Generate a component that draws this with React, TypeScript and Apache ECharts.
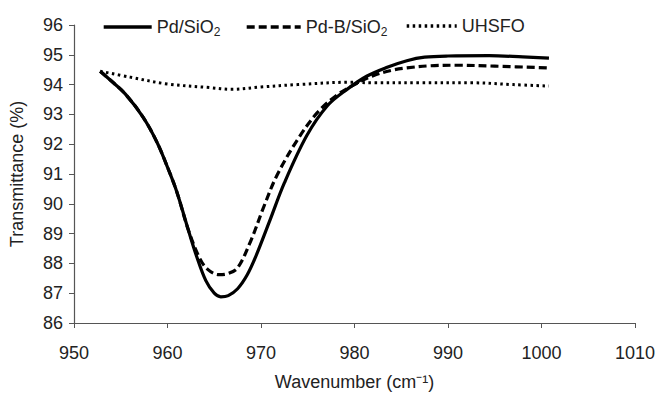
import React, { useEffect, useRef } from "react";
import * as echarts from "echarts";

const xTicks = [950, 960, 970, 980, 990, 1000, 1010];
const yTicks = [86, 87, 88, 89, 90, 91, 92, 93, 94, 95, 96];

const pdX = [952.8, 954, 955.5, 957.4, 958.9, 960.1, 961.0, 962.2, 963.1, 964.1, 965.0, 965.7, 966.5, 967.5, 968.5, 969.4, 970.9, 972.5, 974.9, 977.1, 979.2, 981.3, 983.5, 985.6, 987.5, 990, 994.4, 998, 1000.8];
const pdY = [94.45, 94.12, 93.68, 92.9, 92.05, 91.15, 90.4, 89.15, 88.25, 87.42, 87.0, 86.88, 86.92, 87.15, 87.6, 88.2, 89.4, 90.7, 92.29, 93.29, 93.84, 94.28, 94.58, 94.8, 94.92, 94.96, 94.97, 94.93, 94.89];

const pdbX = [952.8, 954, 955.5, 957.4, 958.9, 960.1, 961.0, 962.2, 963.4, 964.3, 965.5, 966.5, 967.5, 968.9, 970.3, 971.7, 973.9, 976, 978, 980, 982, 984, 985.6, 988, 990.9, 995, 1000.8];
const pdbY = [94.45, 94.12, 93.68, 92.9, 92.05, 91.15, 90.4, 89.15, 88.2, 87.8, 87.62, 87.66, 87.85, 88.75, 89.9, 90.95, 92.15, 93.05, 93.62, 94.0, 94.3, 94.48, 94.56, 94.63, 94.65, 94.62, 94.56];

const uhX = [952.8, 956, 960, 964.5, 966.8, 970, 973.9, 979.5, 982, 987, 992.6, 997, 1000.8];
const uhY = [94.45, 94.25, 94.02, 93.9, 93.84, 93.92, 94.0, 94.08, 94.06, 94.06, 94.06, 94.0, 93.95];

const seriesNames = ["Pd/SiO2", "Pd-B/SiO2", "UHSFO"];

const zip = (xs: number[], ys: number[]) => xs.map((x, i) => [x, ys[i]]);

export default function App() {
  const ref = useRef<HTMLDivElement>(null);
  useEffect(() => {
    if (!ref.current) return;
    const chart = echarts.init(ref.current, undefined, { renderer: "svg" });
    const font = "Liberation Sans, Arial, sans-serif";
    const fs = 18;
    const legendBase = (name: string, left: number, width: number, dash: any) => ({
      top: 17,
      left,
      padding: 0,
      itemWidth: width,
      itemHeight: 14,
      data: [name],
      itemStyle: { opacity: 0 },
      lineStyle: { width: 3.4, color: "#000", type: dash },
      formatter: (n: string) => {
        if (n.endsWith("SiO2")) return "{n|" + n.slice(0, -1) + "}{s|2}";
        return "{n|" + n + "}";
      },
      textStyle: {
        fontFamily: font,
        color: "#222",
        rich: {
          n: { fontSize: fs, fontFamily: font, color: "#222", lineHeight: 22 },
          s: { fontSize: 12, fontFamily: font, color: "#222", lineHeight: 22, verticalAlign: "bottom", padding: [9, 0, 0, 0] },
        },
      },
    });
    chart.setOption({
      animation: false,
      backgroundColor: "#ffffff",
      grid: { left: 72, top: 25, right: 21, bottom: 70 },
      legend: [
        legendBase(seriesNames[0], 102, 48, "solid"),
        legendBase(seriesNames[1], 245, 54, [8, 4]),
        legendBase(seriesNames[2], 405, 50, [2.5, 3.5]),
      ],
      xAxis: {
        type: "value",
        min: 950,
        max: 1010,
        interval: 10,
        name: "Wavenumber (cm⁻¹)",
        nameLocation: "middle",
        nameGap: 50,
        nameTextStyle: { fontSize: fs, fontFamily: font, color: "#222" },
        axisLine: { show: true, lineStyle: { color: "#555", width: 1.2 } },
        axisTick: { show: true, inside: false, length: 5, lineStyle: { color: "#555" } },
        axisLabel: { fontSize: fs, fontFamily: font, color: "#222", margin: 21, formatter: (v: number) => String(v) },
        splitLine: { show: false },
      },
      yAxis: {
        type: "value",
        min: 86,
        max: 96,
        interval: 1,
        name: "Transmittance (%)",
        nameLocation: "middle",
        nameGap: 48,
        nameTextStyle: { fontSize: fs, fontFamily: font, color: "#222" },
        axisLine: { show: true, lineStyle: { color: "#555", width: 1.2 } },
        axisTick: { show: true, inside: false, length: 5, lineStyle: { color: "#555" } },
        axisLabel: { fontSize: fs, fontFamily: font, color: "#222", margin: 11 },
        splitLine: { show: false },
      },
      series: [
        {
          name: seriesNames[0],
          type: "line",
          data: zip(pdX, pdY),
          smooth: 0.35,
          symbol: "none",
          lineStyle: { color: "#000", width: 3.2, type: "solid" },
          itemStyle: { color: "#000" },
          z: 3,
        },
        {
          name: seriesNames[1],
          type: "line",
          data: zip(pdbX, pdbY),
          smooth: 0.35,
          symbol: "none",
          lineStyle: { color: "#000", width: 3.2, type: [8, 4] },
          itemStyle: { color: "#000" },
          z: 2,
        },
        {
          name: seriesNames[2],
          type: "line",
          data: zip(uhX, uhY),
          smooth: 0.35,
          symbol: "none",
          lineStyle: { color: "#000", width: 3, type: [2.5, 3.5] },
          itemStyle: { color: "#000" },
          z: 1,
        },
      ],
    });
    return () => chart.dispose();
  }, []);
  return <div ref={ref} style={{ position: "fixed", left: 0, top: 0, width: 658, height: 396 }} />;
}
